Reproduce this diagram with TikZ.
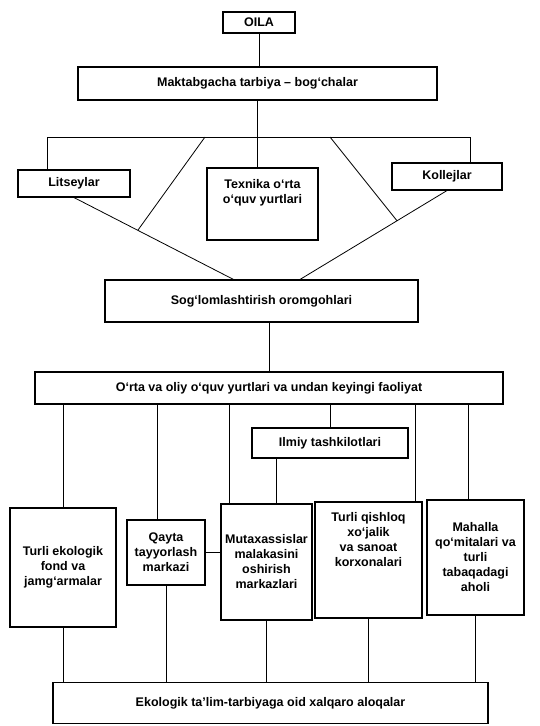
\documentclass[tikz,border=0pt]{standalone}
\usepackage{fontspec}
\setmainfont{Liberation Sans}
\usetikzlibrary{positioning,calc}

\begin{document}
\begin{tikzpicture}[x=1pt,y=-1pt,
    every node/.style={font=\fontsize{12.5}{15}\selectfont\bfseries},
    box/.style={draw,line width=1.1pt,align=center,inner sep=2pt},
    link/.style={line width=0.8pt}]
    \useasboundingbox (0,0) rectangle (540,726);
    % Top of the chain
    \node[box,minimum width=72pt,minimum height=21pt] (oila) at (259,22.5) {OILA};
    \node[box,minimum width=359pt,minimum height=33pt] (maktab) at (257.5,83.5) {Maktabgacha tarbiya – bog‘chalar};
    \draw[link] (oila.south) -- (oila.south |- maktab.north);
    % Three schools
    \node[box,minimum width=112pt,minimum height=27pt] (lits) at (74,183.5) {Litseylar};
    \node[box,minimum width=111pt,minimum height=72pt] (texn) at (262.5,204) {Texnika o‘rta\\o‘quv yurtlari\\[10pt]};
    \node[box,minimum width=110pt,minimum height=27pt] (koll) at (447,176.5) {Kollejlar};
    \coordinate (hl) at (47,137);
    \coordinate (hr) at (470,137);
    \draw[link] (maktab.south) -- (maktab.south |- texn.north);
    \draw[link] (hl) -- (hr);
    \draw[link] (hl) -- (hl |- lits.north);
    \draw[link] (hr) -- (hr |- koll.north);
    % Camps
    \node[box,minimum width=313pt,minimum height=42pt] (sog) at (261.5,301) {Sog‘lomlashtirish oromgohlari};
    \coordinate (sl) at ([xshift=-28pt]sog.north);
    \coordinate (sr) at ([xshift=38.5pt]sog.north);
    \draw[link] (lits.south) -- (sl);
    \draw[link] (koll.south) -- (sr);
    \draw[link] (205,137) -- ($(lits.south)!0.4!(sl)$);
    \draw[link] (330,137) -- ($(koll.south)!0.34!(sr)$);
    % Higher education
    \node[box,minimum width=468pt,minimum height=32pt] (orta) at (269,388) {O‘rta va oliy o‘quv yurtlari va undan keyingi faoliyat};
    \draw[link] (orta.north) -- (orta.north |- sog.south);
    \node[box,minimum width=156pt,minimum height=30pt] (ilmiy) at (330,443) {Ilmiy tashkilotlari};
    % Bottom row
    \node[box,minimum width=106pt,minimum height=119pt] (fond) at (63,567.5) {Turli ekologik\\fond va\\jamg‘armalar};
    \node[box,minimum width=78pt,minimum height=65pt] (qayta) at (166,552.5) {Qayta\\tayyorlash\\markazi};
    \node[box,minimum width=91pt,minimum height=116pt] (mutax) at (266.5,562) {Mutaxassislar\\malakasini\\oshirish\\markazlari};
    \node[box,minimum width=107pt,minimum height=116pt] (qish) at (368.5,560) {Turli qishloq\\xo‘jalik\\va sanoat\\korxonalari\\[26pt]};
    \node[box,minimum width=97pt,minimum height=115pt] (mah) at (475.5,557.5) {Mahalla\\qo‘mitalari va\\turli\\tabaqadagi\\aholi};
    \node[box,minimum width=435pt,minimum height=41pt] (ekol) at (270.5,703) {Ekologik ta’lim-tarbiyaga oid xalqaro aloqalar};
    % Links from the higher education box
    \draw[link] (fond.north |- orta.south) -- (fond.north);
    \draw[link] ([xshift=-9pt]qayta.north |- orta.south) -- ([xshift=-9pt]qayta.north);
    \draw[link] ([xshift=-37.5pt]mutax.north |- orta.south) -- ([xshift=-37.5pt]mutax.north);
    \draw[link] (ilmiy.north |- orta.south) -- (ilmiy.north);
    \draw[link] ([xshift=-54pt]ilmiy.south) -- ([xshift=-54pt]ilmiy.south |- mutax.north);
    \draw[link] ([xshift=46.5pt]qish.north |- orta.south) -- ([xshift=46.5pt]qish.north);
    \draw[link] ([xshift=-7.5pt]mah.north |- orta.south) -- ([xshift=-7.5pt]mah.north);
    \draw[link] (qayta.east) -- (qayta.east -| mutax.west);
    % Links down to the last box
    \foreach \n in {fond,qayta,mutax,qish,mah}
      \draw[link] (\n.south) -- (\n.south |- ekol.north);
\end{tikzpicture}
\end{document}
